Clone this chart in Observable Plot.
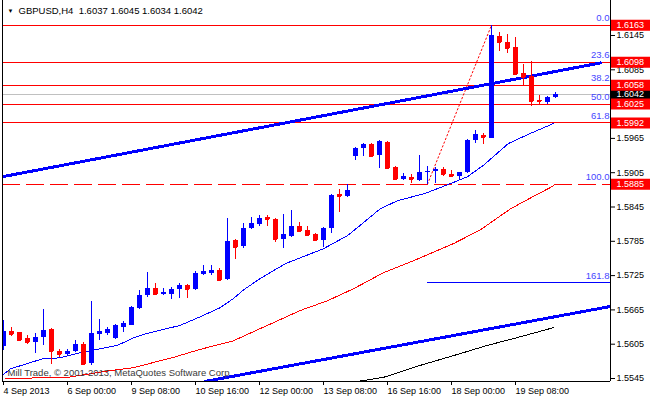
<!DOCTYPE html>
<html><head><meta charset="utf-8">
<script src="https://cdn.jsdelivr.net/npm/d3@7"></script>
<script src="https://cdn.jsdelivr.net/npm/@observablehq/plot@0.6"></script>
<style>body{margin:0;background:#fff;overflow:hidden}</style>
</head><body><div id="chart"></div>
<script>
const symbolTitle = "GBPUSD,H4  1.6037 1.6045 1.6034 1.6042";
const watermark = "Mill Trade, © 2001-2013, MetaQuotes Software Corp";

// H4 candles (bar index 0..69)
const opens  = [1.5601,1.5627,1.5625,1.5615,1.5608,1.5616,1.5631,1.5592,1.5587,1.5592,1.5604,1.5571,1.5622,1.5623,1.5615,1.5634,1.5638,1.5667,1.5690,1.5702,1.5692,1.5692,1.5700,1.5708,1.5700,1.5727,1.5729,1.5734,1.5718,1.5786,1.5776,1.5807,1.5814,1.5827,1.5823,1.5788,1.5793,1.5811,1.5804,1.5797,1.5786,1.5807,1.5867,1.5863,1.5933,1.5947,1.5954,1.5935,1.5958,1.5914,1.5893,1.5896,1.5891,1.5905,1.5907,1.5910,1.5902,1.5898,1.5905,1.5961,1.5970,1.5965,1.6143,1.6133,1.6124,1.6079,1.6073,1.6031,1.6028,1.6037];
const highs  = [1.5646,1.5634,1.5626,1.5620,1.5623,1.5665,1.5632,1.5596,1.5596,1.5611,1.5608,1.5680,1.5648,1.5634,1.5639,1.5645,1.5671,1.5699,1.5730,1.5711,1.5702,1.5704,1.5711,1.5709,1.5733,1.5743,1.5743,1.5737,1.5825,1.5788,1.5816,1.5827,1.5830,1.5830,1.5825,1.5832,1.5839,1.5818,1.5811,1.5798,1.5809,1.5866,1.5876,1.5884,1.5949,1.5956,1.5956,1.5961,1.5960,1.5915,1.5903,1.5902,1.5935,1.5916,1.5914,1.5914,1.5909,1.5905,1.5963,1.5979,1.5974,1.6163,1.6150,1.6147,1.6142,1.6094,1.6100,1.6040,1.6038,1.6045];
const lows   = [1.5594,1.5618,1.5610,1.5604,1.5589,1.5603,1.5569,1.5582,1.5585,1.5590,1.5568,1.5568,1.5611,1.5620,1.5614,1.5625,1.5637,1.5665,1.5687,1.5691,1.5691,1.5683,1.5685,1.5685,1.5699,1.5725,1.5725,1.5715,1.5716,1.5753,1.5772,1.5805,1.5811,1.5811,1.5783,1.5772,1.5791,1.5800,1.5793,1.5786,1.5774,1.5798,1.5835,1.5862,1.5926,1.5933,1.5933,1.5912,1.5912,1.5893,1.5891,1.5886,1.5890,1.5885,1.5886,1.5898,1.5896,1.5893,1.5903,1.5956,1.5954,1.5965,1.6117,1.6114,1.6077,1.6058,1.6021,1.6023,1.6024,1.6034];
const closes = [1.5627,1.5622,1.5611,1.5608,1.5616,1.5629,1.5592,1.5587,1.5592,1.5604,1.5569,1.5623,1.5627,1.5631,1.5638,1.5641,1.5670,1.5690,1.5702,1.5692,1.5695,1.5700,1.5708,1.5700,1.5728,1.5732,1.5734,1.5716,1.5784,1.5774,1.5807,1.5816,1.5825,1.5823,1.5788,1.5797,1.5811,1.5802,1.5795,1.5786,1.5807,1.5865,1.5863,1.5874,1.5948,1.5954,1.5933,1.5960,1.5912,1.5893,1.5898,1.5893,1.5905,1.5907,1.5910,1.5902,1.5898,1.5905,1.5961,1.5972,1.5967,1.6145,1.6133,1.6122,1.6077,1.6072,1.6030,1.6030,1.6037,1.6042];

// time axis
const timeTickIndex  = [0, 8, 16, 24, 32, 40, 48, 56, 64];
const timeTickLabels = ["4 Sep 2013","6 Sep 00:00","9 Sep 08:00","10 Sep 16:00","12 Sep 00:00","13 Sep 08:00","16 Sep 16:00","18 Sep 00:00","19 Sep 08:00"];

// price axis
const priceTicks = [1.6145,1.6085,1.5965,1.5905,1.5845,1.5785,1.5725,1.5665,1.5605,1.5545];

// Fibonacci retracement
const fibRatios = [0, 23.6, 38.2, 50.0, 61.8, 100.0, 161.8];
const fibPrices = [1.6163, 1.6098, 1.6058, 1.6025, 1.5992, 1.5885, 1.5713];
const fibAnchorIdx   = [53, 61];
const fibAnchorPrice = [1.5885, 1.6163];
const fibExtStartIdx = 53;

const bidPrice = 1.6042;

// moving averages (bar index, price)
const maBlueIdx   = [0,0.875,2.5,5,7,9.25,11.75,14.25,16.25,17.75,22.1,24.6,27.1,28.75,30,32.1,35.25,40,43,44.6,47.1,49.25,52.75,56.25,58,60,63.1,65.9,68.75];
const maBlueVal   = [1.5552,1.5562,1.5569,1.5580,1.5581,1.5589,1.5596,1.5603,1.5616,1.5623,1.5638,1.5653,1.5669,1.5685,1.5700,1.5720,1.5746,1.5772,1.5795,1.5813,1.5842,1.5856,1.5869,1.5888,1.5898,1.5918,1.5956,1.5974,1.5991];
const maRedIdx    = [0.25,8,13.4,16.25,21.25,24.6,28.75,33,37.1,40.5,43.75,47.5,51.25,56.25,59.6,63.4,65.9,68.75];
const maRedVal    = [1.5545,1.5547,1.5559,1.5564,1.5582,1.5596,1.5611,1.5638,1.5664,1.5681,1.5702,1.5730,1.5751,1.5781,1.5805,1.5842,1.5861,1.5882];
const maBlackIdx  = [43.4,47.5,52.1,56.25,60.5,64.6,68.75];
const maBlackVal  = [1.5538,1.5547,1.5568,1.5585,1.5603,1.5618,1.5634];

// trend channel (two anchor points each)
const chanUpperIdx = [-0.125, 74.6];
const chanUpperVal = [1.5898, 1.6097];
const chanLowerIdx = [25.25, 75.875];
const chanLowerVal = [1.5540, 1.5671];

// ---------------------------------------------------------
const BLUE = "#0000ff", RED = "#ff0000";
const candles = opens.map((o, i) => ({i, o, h: highs[i], l: lows[i], c: closes[i]}));
const col = d => d.c >= d.o ? BLUE : RED;
const fib = fibRatios.map((r, k) => ({r, p: fibPrices[k]}));
const fibSolid = fib.filter(d => d.r < 100);
const fibDashed = fib.filter(d => d.r === 100);
const fibExt = fib.filter(d => d.r > 100);
const fibBoxes = fib.filter(d => d.r <= 100);
const pts = (xs, ys) => xs.map((x, k) => ({x, y: ys[k]}));
const xDom = [-0.125, 75.875];
const yDom = [1.5539756, 1.6206224];
const tickLbl = new Map(timeTickIndex.map((d, k) => [d, timeTickLabels[k]]));
const crisp = {shapeRendering: "crispEdges"};

const chart = Plot.plot({
  width: 650, height: 400,
  marginLeft: 2, marginRight: 40, marginTop: 0, marginBottom: 19,
  x: {domain: xDom},
  y: {domain: yDom, label: null},
  style: {fontFamily: "'Liberation Sans', Arial, sans-serif", fontSize: "9px", background: "white", color: "black"},
  marks: [
    // fib horizontal levels
    Plot.ruleY(fibSolid, {y: "p", stroke: RED, ...crisp}),
    Plot.ruleY(fibDashed, {y: "p", stroke: RED, strokeDasharray: "18,6", ...crisp}),
    Plot.ruleY(fibExt, {y: "p", x1: fibExtStartIdx, x2: xDom[1], stroke: BLUE, ...crisp}),
    Plot.ruleY([bidPrice], {stroke: "#c0c0c0", ...crisp}),
    // fib diagonal
    Plot.line(pts(fibAnchorIdx, fibAnchorPrice), {x: "x", y: "y", stroke: RED, strokeDasharray: "1.5,2.5", strokeWidth: 1}),
    // moving averages
    Plot.line(pts(maBlackIdx, maBlackVal), {x: "x", y: "y", stroke: "black", strokeWidth: 1, clip: true, ...crisp}),
    Plot.line(pts(maRedIdx, maRedVal), {x: "x", y: "y", stroke: RED, strokeWidth: 1, clip: true, ...crisp}),
    Plot.line(pts(maBlueIdx, maBlueVal), {x: "x", y: "y", stroke: BLUE, strokeWidth: 1, clip: true, ...crisp}),
    // trend channel
    Plot.line(pts(chanUpperIdx, chanUpperVal), {x: "x", y: "y", stroke: BLUE, strokeWidth: 3, clip: true, ...crisp}),
    Plot.line(pts(chanLowerIdx, chanLowerVal), {x: "x", y: "y", stroke: BLUE, strokeWidth: 3, clip: true, ...crisp}),
    // candles
    Plot.ruleX(candles, {x: "i", y1: "l", y2: "h", stroke: col, clip: true, ...crisp}),
    Plot.rect(candles, {x1: d => d.i - 0.25, x2: d => d.i + 0.375, y1: "o", y2: "c", fill: col, clip: true, ...crisp}),
    Plot.ruleY(candles, {y: "c", x1: d => d.i - 0.3, x2: d => d.i + 0.3, stroke: col, clip: true, ...crisp}),
    // fib level labels
    Plot.text(fib, {x: xDom[1], y: "p", text: d => d.r.toFixed(1), textAnchor: "end", dx: -1, dy: -7, fontSize: 9.5, fill: "#4646ff"}),
    // frame
    Plot.ruleX([xDom[0], xDom[1]], {stroke: "black", ...crisp}),
    Plot.ruleY([yDom[0]], {stroke: "black", ...crisp}),
    // axes
    Plot.axisY({anchor: "right", ticks: priceTicks, tickFormat: d => d.toFixed(4), tickSize: 4, tickPadding: 2, label: null, fill: "black", stroke: "black"}),
    Plot.axisX({anchor: "bottom", ticks: timeTickIndex, tickFormat: d => tickLbl.get(d), tickSize: 4, tickPadding: 2, textAnchor: "start", label: null, fill: "black", stroke: "black"}),
    // price boxes
    Plot.ruleY([bidPrice], {x1: 76, x2: 81, stroke: "black", strokeWidth: 11}),
    Plot.text([bidPrice], {x: 76, y: d => d, text: d => d.toFixed(4), textAnchor: "start", dx: 5, fill: "white"}),
    Plot.ruleY(fibBoxes, {y: "p", x1: 76, x2: 81, stroke: RED, strokeWidth: 11}),
    Plot.text(fibBoxes, {x: 76, y: "p", text: d => d.p.toFixed(4), textAnchor: "start", dx: 5, fill: "white"}),
    // header and watermark
    Plot.text(["\u25BC"], {frameAnchor: "top-left", dx: 5, dy: 8, lineAnchor: "top", textAnchor: "start", fontSize: 6, fill: "black"}),
    Plot.text([symbolTitle], {frameAnchor: "top-left", dx: 16, dy: 7, lineAnchor: "top", textAnchor: "start", fontSize: 9.5, fill: "black"}),
    Plot.text([watermark], {frameAnchor: "bottom-left", dx: 5, dy: -6, textAnchor: "start", fontSize: 9.5, fill: "#3a3a3a"})
  ]
});
document.getElementById("chart").append(chart);
</script>
</body></html>
